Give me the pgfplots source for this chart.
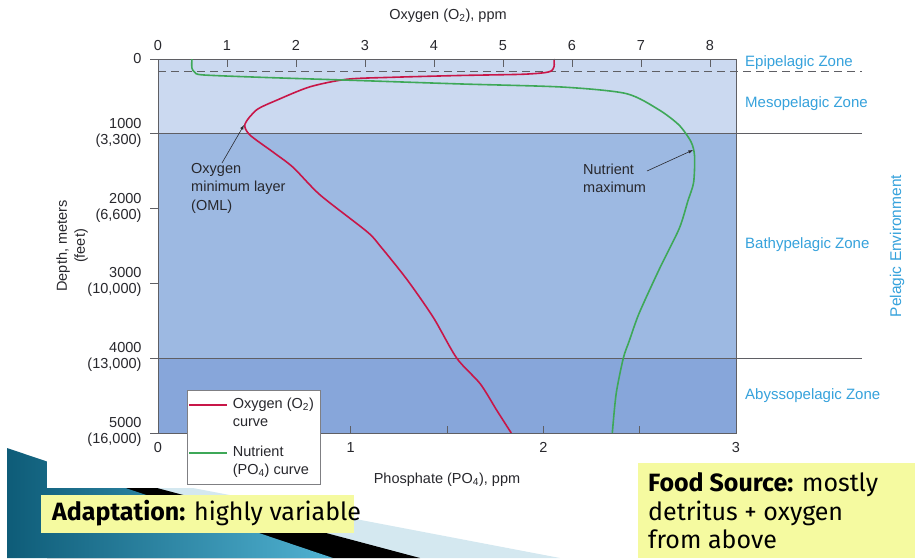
\documentclass[border=0pt]{standalone}
\usepackage{fontspec}
\setmainfont{Liberation Sans}
\newfontfamily\slidefont{Fira Sans}
\usepackage{pgfplots}
\pgfplotsset{compat=1.18}
\definecolor{bandA}{RGB}{203,217,240}
\definecolor{bandB}{RGB}{157,185,226}
\definecolor{bandC}{RGB}{135,166,218}
\definecolor{ored}{RGB}{200,22,72}
\definecolor{ngreen}{RGB}{62,168,88}
\definecolor{zone}{RGB}{54,162,220}
\definecolor{frame}{RGB}{95,95,100}
\definecolor{hl}{RGB}{245,250,160}
\definecolor{tealA}{RGB}{14,92,120}
\definecolor{tealB}{RGB}{80,178,210}
\definecolor{lblue}{RGB}{212,232,240}
\definecolor{txt}{RGB}{40,40,45}
\begin{document}
\begin{tikzpicture}
\useasboundingbox (0pt,0pt) rectangle (915pt,-558pt);
\begin{scope}[x=1pt,y=-1pt]
\fill[lblue] (47,488) -- (193,488) -- (560,558) -- (47,558) -- cycle;
\fill[black] (47,488) -- (157,488) -- (420,558) -- (47,558) -- cycle;
\shade[left color=tealA, right color=tealB] (7,448) -- (333,558) -- (7,558) -- cycle;
\fill[white] (47,0) rectangle (915,488);
\end{scope}

\begin{axis}[at={(158pt,-433pt)}, anchor=south west, scale only axis,
  width=578pt, height=374pt,
  xmin=0, xmax=8.377, ymin=0, ymax=5000, y dir=reverse,
  axis on top, clip=false,
  axis line style={frame, line width=0.8pt},
  xtick={0,1,...,8}, xtick pos=upper, xticklabel pos=upper,
  ytick={0,1000,2000,3000,4000,5000}, ytick pos=left, ytick align=outside,
  yticklabels={0,{1000\\(3,300)},{2000\\(6,600)},{3000\\(10,000)},{4000\\(13,000)},{5000\\(16,000)}},
  yticklabel style={align=right, font=\fontsize{14.5}{16}\selectfont, text=txt, xshift=-5pt, yshift=1pt},
  xticklabel style={font=\fontsize{14.5}{16}\selectfont, text=txt, yshift=5pt},
  major tick length=8pt,
  tick style={frame, line width=0.8pt},
  /pgf/number format/assume math mode=true,
]
\fill[bandA] (axis cs:0,0) rectangle (axis cs:8.377,1000);
\fill[bandB] (axis cs:0,1000) rectangle (axis cs:8.377,4000);
\fill[bandC] (axis cs:0,4000) rectangle (axis cs:8.377,5000);
\draw[frame, line width=0.8pt] (axis cs:0,1000) -- (axis cs:10.2,1000);
\draw[frame, line width=0.8pt] (axis cs:0,4000) -- (axis cs:10.2,4000);
\draw[frame, line width=0.8pt, dash pattern=on 8pt off 5pt] (axis cs:0,170) -- (axis cs:10.2,170);
\addplot[ored, line width=1.6pt, smooth, tension=0.45] coordinates {
(5.74,0) (5.74,100) (5.70,160) (5.58,185) (5.25,205) (4.38,220) (3.41,244)
(2.74,270) (2.20,372) (1.72,551) (1.43,679) (1.26,872) (1.33,1014)
(1.67,1246) (1.96,1450) (2.35,1818) (3.03,2309) (3.22,2500) (3.61,2950)
(3.99,3455) (4.33,4000) (4.67,4342) (4.91,4697) (5.12,5000)};
\end{axis}

\begin{axis}[at={(158pt,-433pt)}, anchor=south west, scale only axis,
  width=578pt, height=374pt,
  xmin=0, xmax=3, ymin=0, ymax=5000, y dir=reverse,
  clip=false,
  axis line style={draw=none}, ytick=\empty,
  xtick={0,1,2,3}, minor xtick={0.5,1.5,2.5}, xtick pos=lower, xticklabel pos=lower,
  major tick length=7pt, minor tick length=7pt,
  tick style={frame, line width=0.8pt},
  xticklabel style={font=\fontsize{14.5}{16}\selectfont, text=txt, yshift=-6pt},
  /pgf/number format/assume math mode=true,
  legend style={at={(axis description cs:0.05,0.115)}, anchor=north west,
    draw=frame!80, fill=white, line width=0.6pt,
    font=\fontsize{14.5}{18}\selectfont, text=txt,
    cells={anchor=west, align=left}, nodes={inner xsep=5pt, inner ysep=2pt},
    row sep=14pt, inner xsep=1pt, inner ysep=6pt},
  legend image code/.code={\path[draw=none,fill=none] (0pt,-9pt) -- (38pt,9pt); \draw[#1] (0pt,8.5pt) -- (38pt,8.5pt);},
]
\addlegendimage{ored, line width=1.6pt}
\addlegendentry{Oxygen (O\textsubscript{2})\\curve}
\addplot[ngreen, line width=1.6pt, smooth, tension=0.45] coordinates {
(0.176,0) (0.176,120) (0.19,175) (0.23,212) (0.528,244) (0.979,282)
(1.565,333) (2.10,375) (2.43,462) (2.60,679) (2.705,885) (2.767,1109)
(2.785,1300) (2.78,1650) (2.75,1900) (2.705,2268) (2.601,2814)
(2.497,3400) (2.446,3768) (2.415,4000) (2.378,4474) (2.358,5000)};
\addlegendentry{Nutrient\\(PO\textsubscript{4}) curve}
\end{axis}

\begin{scope}[x=1pt,y=-1pt]
\node[text=txt, font=\fontsize{14.5}{16}\selectfont] at (448,16) {Oxygen (O\textsubscript{2}), ppm};
\node[text=txt, font=\fontsize{14.5}{16}\selectfont] at (447,480) {Phosphate (PO\textsubscript{4}), ppm};
\node[text=txt, rotate=90, align=center, font=\fontsize{14.5}{18}\selectfont] at (72,246) {Depth, meters\\(feet)};
\node[text=txt, anchor=north west, align=left, inner sep=0pt, font=\fontsize{14.5}{18.5}\selectfont] at (191,163) {Oxygen\\minimum layer\\(OML)};
\node[text=txt, anchor=north west, align=left, inner sep=0pt, font=\fontsize{14.5}{17.5}\selectfont] at (583,164) {Nutrient\\maximum};
\draw[txt, line width=0.6pt, -latex] (222,163) -- (244,125);
\draw[txt, line width=0.6pt, -latex] (647,171) -- (693,150);
\begin{scope}[every node/.style={text=zone, font=\fontsize{15}{18}\selectfont, anchor=west, inner sep=0pt}]
\node at (745,63) {Epipelagic Zone};
\node at (745,104) {Mesopelagic Zone};
\node at (745,245) {Bathypelagic Zone};
\node at (745,396) {Abyssopelagic Zone};
\node[rotate=90, anchor=center, font=\fontsize{15.5}{18}\selectfont] at (897,246) {Pelagic Environment};
\end{scope}
\fill[hl] (41,495) rectangle (354,533);
\node[anchor=base west, inner sep=0pt, font=\slidefont\fontsize{25}{29}\selectfont] at (52,520) {\textbf{Adaptation:} highly variable};
\fill[hl] (638,463) rectangle (915,558);
\node[anchor=base west, inner sep=0pt, font=\slidefont\fontsize{25}{29}\selectfont] at (648,491) {\textbf{Food Source:} mostly};
\node[anchor=base west, inner sep=0pt, font=\slidefont\fontsize{25}{29}\selectfont] at (648,520) {detritus + oxygen};
\node[anchor=base west, inner sep=0pt, font=\slidefont\fontsize{25}{29}\selectfont] at (648,548) {from above};
\end{scope}
\end{tikzpicture}
\end{document}
